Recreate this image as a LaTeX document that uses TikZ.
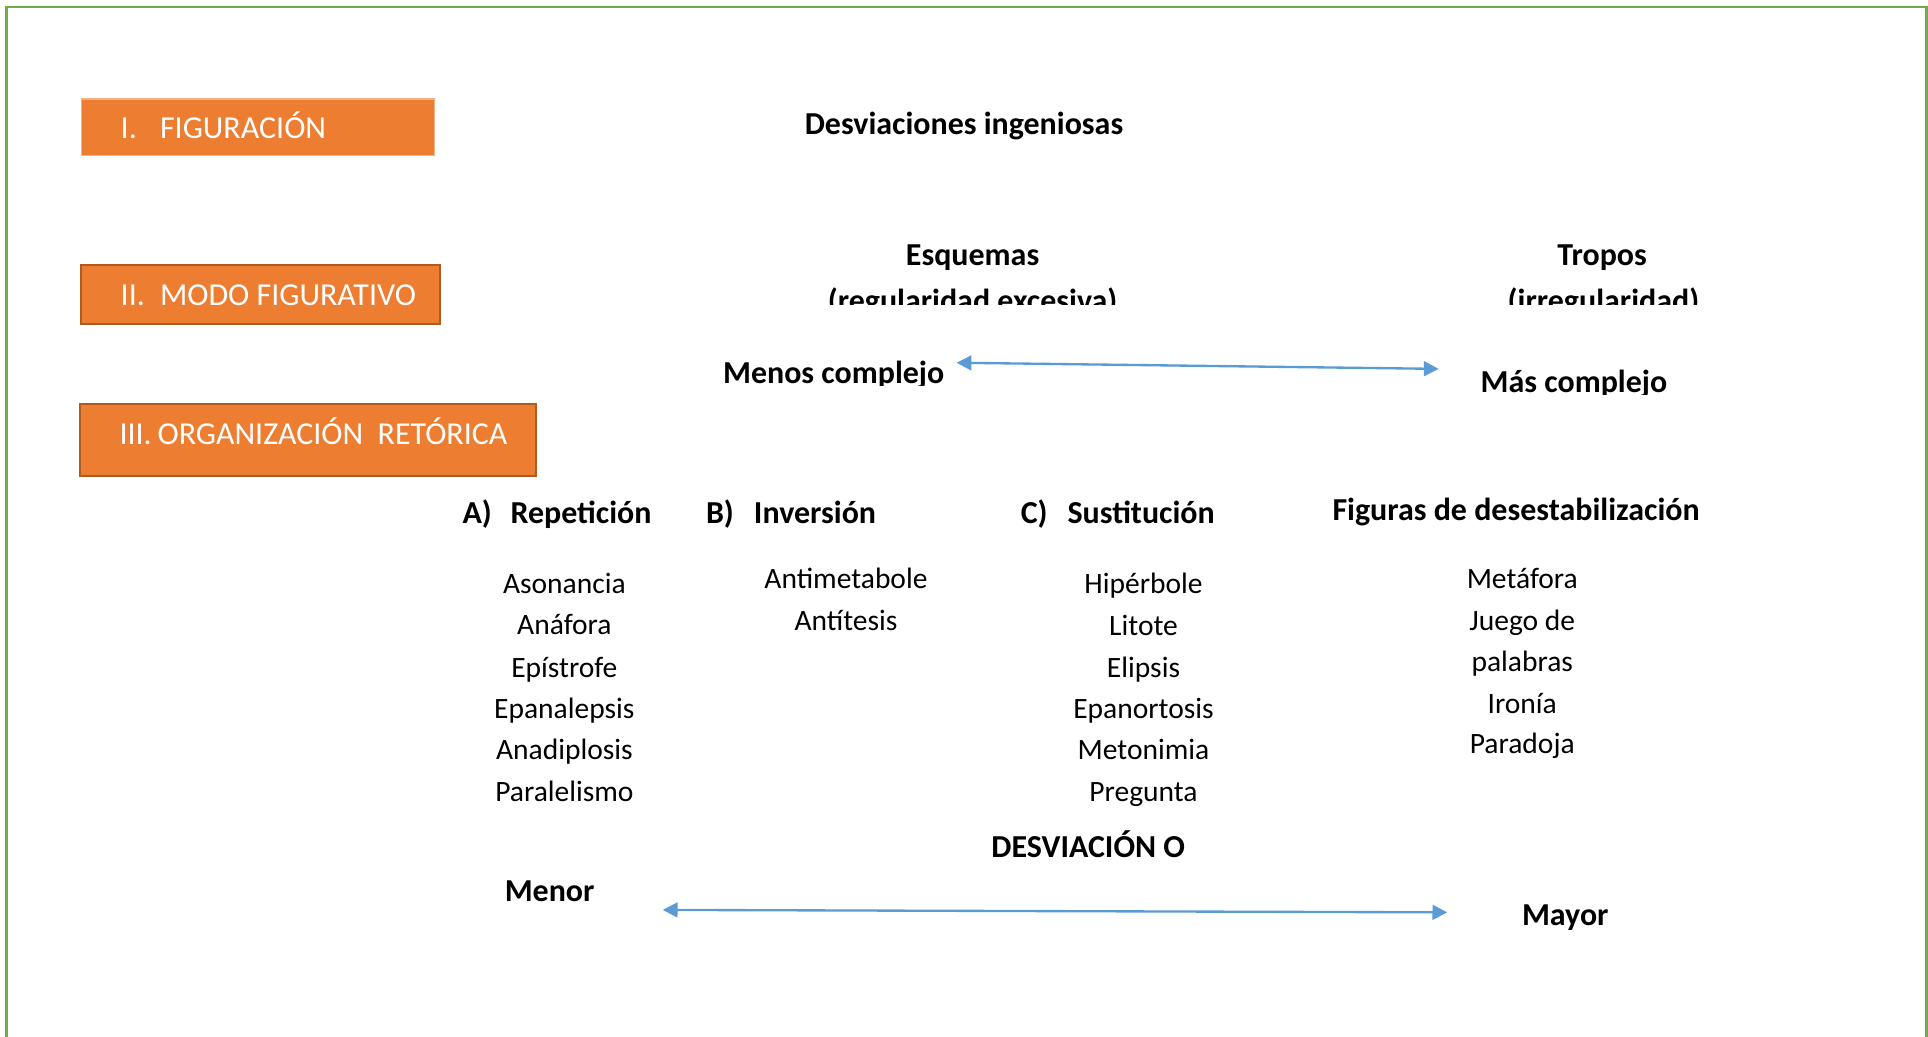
\documentclass[tikz,border=0pt]{standalone}
\usepackage{fontspec}
\setmainfont{Carlito}
\usetikzlibrary{arrows.meta}
\definecolor{orng}{HTML}{ED7D31}
\definecolor{orngdark}{HTML}{AE5A21}
\definecolor{ornglight}{HTML}{F4B183}
\definecolor{framegreen}{HTML}{70AD47}
\definecolor{arrblue}{HTML}{5B9BD5}
\begin{document}
\begin{tikzpicture}[x=1pt,y=-1pt,
  boxtxt/.style={anchor=base west, inner sep=0pt, text=white, font=\fontsize{26}{31}\selectfont},
  hdr/.style={anchor=base, inner sep=0pt, font=\fontsize{26}{31}\selectfont\bfseries},
  hdrw/.style={hdr, anchor=base west},
  item/.style={anchor=base, inner sep=0pt, font=\fontsize{24}{29}\selectfont},
  obox/.style={fill=orng, draw=orngdark, line width=1.6pt, anchor=north west, inner sep=0pt},
  dblarrow/.style={draw=arrblue, line width=1.9pt, {Triangle[length=12pt,width=12pt]}-{Triangle[length=12pt,width=12pt]}}
]
\useasboundingbox[fill=white] (0,0) rectangle (1568,843);
% frame
\draw[framegreen, line width=2.4pt] (5,845) -- (5,5.7) -- (1566.8,5.7) -- (1566.8,845);

% orange boxes
\node[obox, draw=ornglight, line width=1pt, minimum width=287pt, minimum height=46pt] (b1) at (66,80) {};
\node[obox, minimum width=292pt, minimum height=48pt] (b2) at (65,215) {};
\node[obox, minimum width=371pt, minimum height=58pt] (b3) at (64,328) {};
\node[boxtxt] (t1) at (98,112.5) {\makebox[32pt][l]{I.}FIGURACIÓN};
\node[boxtxt] (t2) at (98,248.5) {\makebox[32pt][l]{II.}MODO FIGURATIVO};
\node[boxtxt] (t3) at (97,361.5) {\makebox[31pt][l]{III.}ORGANIZACIÓN\ \ RETÓRICA};

% titles
\node[hdr] (desv) at (784,109) {Desviaciones ingeniosas};
\node[hdr] (esq) at (791,216) {Esquemas};
\node[hdr] (trop) at (1303,216) {Tropos};
\begin{scope}
  \clip (600,225) rectangle (1000,247.5);
  \node[hdr] (esq2) at (791,253) {(regularidad excesiva)};
\end{scope}
\begin{scope}
  \clip (1150,225) rectangle (1450,247.5);
  \node[hdr] (trop2) at (1304,253) {(irregularidad)};
\end{scope}
\begin{scope}
  \clip (560,280) rectangle (800,313.5);
  \node[hdr] (menos) at (678,312) {Menos complejo};
\end{scope}
\begin{scope}
  \clip (1180,285) rectangle (1400,321);
  \node[hdr] (mas) at (1280,319) {Más complejo};
\end{scope}
\coordinate (a1l) at (778,295);
\coordinate (a1r) at (1170,300);
\draw[dblarrow] (a1l) -- (a1r);

% headings
\node[hdrw] (hA) at (376,426) {\makebox[39pt][l]{A)}Repetición};
\node[hdrw] (hB) at (574,426) {\makebox[39pt][l]{B)}Inversión};
\node[hdrw] (hC) at (830,426) {\makebox[38pt][l]{C)}Sustitución};
\node[hdr] (hD) at (1233,423) {Figuras de desestabilización};

% column A
\node[item] (a1) at (459,483) {Asonancia};
\node[item] (a2) at (459,516) {Anáfora};
\node[item] (a3) at (459,551) {Epístrofe};
\node[item] (a4) at (459,584) {Epanalepsis};
\node[item] (a5) at (459,618) {Anadiplosis};
\node[item] (a6) at (459,652) {Paralelismo};
% column B
\node[item] (bb1) at (688,479) {Antimetabole};
\node[item] (bb2) at (688,513) {Antítesis};
% column C
\node[item] (c1) at (930,483) {Hipérbole};
\node[item] (c2) at (930,517) {Litote};
\node[item] (c3) at (930,551) {Elipsis};
\node[item] (c4) at (930,584) {Epanortosis};
\node[item] (c5) at (930,618) {Metonimia};
\node[item] (c6) at (930,652) {Pregunta};
% column D
\node[item] (d1) at (1238,479) {Metáfora};
\node[item] (d2) at (1238,513) {Juego de};
\node[item] (d3) at (1238,546) {palabras};
\node[item] (d4) at (1238,580) {Ironía};
\node[item] (d5) at (1238,613) {Paradoja};

% bottom scale
\node[hdr] (devo) at (885,697) {DESVIACIÓN O};
\node[hdr] (menor) at (447,733) {Menor};
\node[hdr] (mayor) at (1273,752.5) {Mayor};
\coordinate (a2l) at (539,740);
\coordinate (a2r) at (1177,742);
\draw[dblarrow] (a2l) -- (a2r);
\end{tikzpicture}
\end{document}
